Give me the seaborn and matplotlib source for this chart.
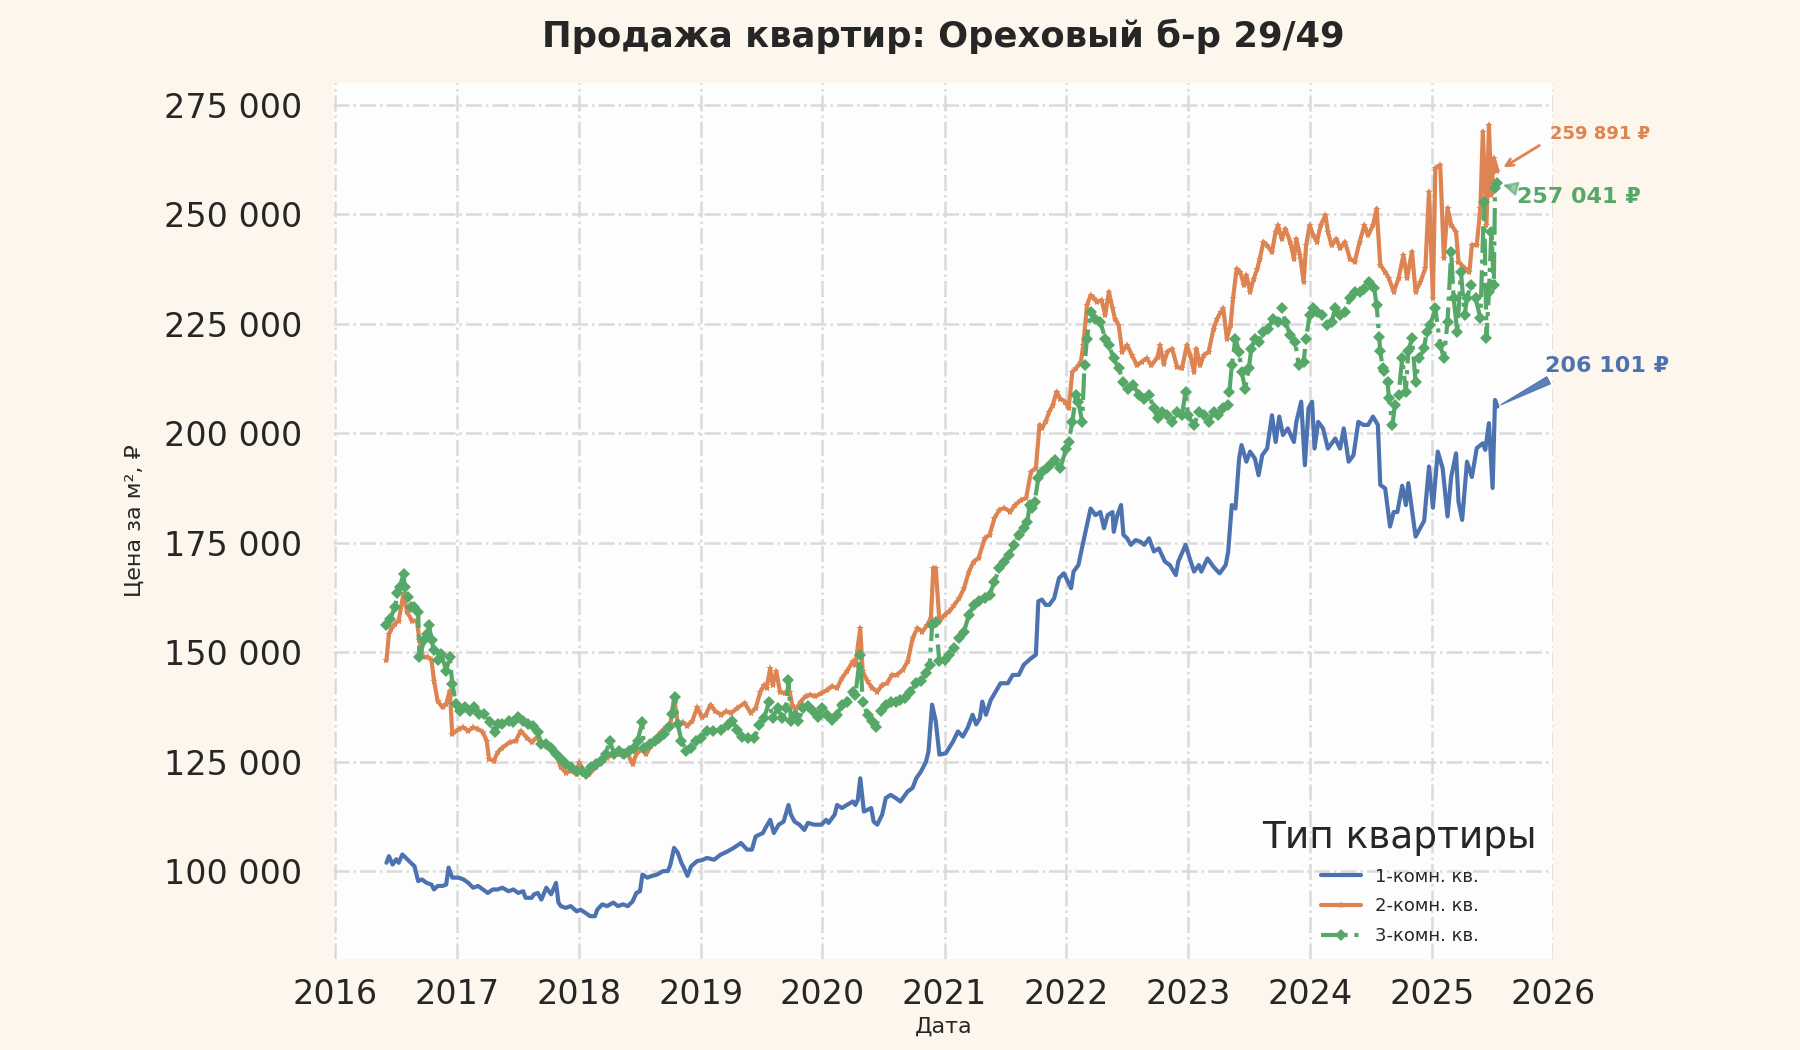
import pandas as pd
import matplotlib
matplotlib.use("Agg")
import matplotlib.pyplot as plt
import matplotlib.dates as mdates
from matplotlib.ticker import FuncFormatter
import seaborn as sns

# ---------- data ----------
TITLE = "Продажа квартир: Ореховый б-р 29/49"
LEGEND_TITLE = "Тип квартиры"
LABELS = ["1-комн. кв.", "2-комн. кв.", "3-комн. кв."]

# decimal years, prices in thousands of rubles per m²
one_t = [2016.42, 2016.44, 2016.47, 2016.50, 2016.52, 2016.55, 2016.59, 2016.62, 2016.65, 2016.68,
         2016.71, 2016.75, 2016.79, 2016.81, 2016.84, 2016.88, 2016.91, 2016.93, 2016.96, 2017.01,
         2017.05, 2017.09, 2017.13, 2017.17, 2017.21, 2017.25, 2017.29, 2017.33, 2017.37, 2017.42,
         2017.46, 2017.50, 2017.54, 2017.56, 2017.61, 2017.63, 2017.66, 2017.69, 2017.73, 2017.77,
         2017.81, 2017.83, 2017.85, 2017.89, 2017.93, 2017.98, 2018.01, 2018.05, 2018.09, 2018.13,
         2018.15, 2018.19, 2018.23, 2018.28, 2018.32, 2018.36, 2018.40, 2018.44, 2018.47, 2018.50,
         2018.52, 2018.56, 2018.60, 2018.64, 2018.69, 2018.73, 2018.75, 2018.78, 2018.81, 2018.84,
         2018.86, 2018.89, 2018.92, 2018.97, 2019.01, 2019.05, 2019.11, 2019.16, 2019.22, 2019.27,
         2019.33, 2019.38, 2019.42, 2019.45, 2019.51, 2019.53, 2019.57, 2019.60, 2019.64, 2019.68,
         2019.72, 2019.74, 2019.77, 2019.81, 2019.85, 2019.88, 2019.93, 2019.99, 2020.03, 2020.05,
         2020.10, 2020.12, 2020.16, 2020.20, 2020.25, 2020.27, 2020.29, 2020.31, 2020.34, 2020.37,
         2020.40, 2020.42, 2020.45, 2020.49, 2020.52, 2020.56, 2020.60, 2020.64, 2020.70, 2020.74,
         2020.77, 2020.81, 2020.85, 2020.87, 2020.90, 2020.93, 2020.96, 2021.01, 2021.07, 2021.11,
         2021.15, 2021.19, 2021.23, 2021.26, 2021.29, 2021.31, 2021.34, 2021.38, 2021.42, 2021.46,
         2021.52, 2021.56, 2021.61, 2021.65, 2021.71, 2021.75, 2021.77, 2021.80, 2021.83, 2021.86,
         2021.90, 2021.94, 2021.98, 2022.04, 2022.06, 2022.10, 2022.14, 2022.20, 2022.24, 2022.28,
         2022.31, 2022.34, 2022.38, 2022.39, 2022.42, 2022.45, 2022.47, 2022.50, 2022.53, 2022.57,
         2022.61, 2022.64, 2022.68, 2022.72, 2022.76, 2022.81, 2022.85, 2022.90, 2022.92, 2022.98,
         2023.01, 2023.05, 2023.09, 2023.11, 2023.16, 2023.21, 2023.26, 2023.31, 2023.33, 2023.36,
         2023.39, 2023.42, 2023.44, 2023.48, 2023.51, 2023.55, 2023.58, 2023.61, 2023.65, 2023.69,
         2023.72, 2023.75, 2023.78, 2023.82, 2023.87, 2023.89, 2023.93, 2023.96, 2023.99, 2024.02,
         2024.04, 2024.07, 2024.11, 2024.15, 2024.21, 2024.25, 2024.28, 2024.32, 2024.36, 2024.40,
         2024.44, 2024.48, 2024.52, 2024.56, 2024.58, 2024.62, 2024.66, 2024.69, 2024.72, 2024.76,
         2024.79, 2024.81, 2024.87, 2024.94, 2024.98, 2025.01, 2025.05, 2025.09, 2025.13, 2025.16,
         2025.20, 2025.22, 2025.25, 2025.29, 2025.33, 2025.37, 2025.42, 2025.44, 2025.47, 2025.50,
         2025.52, 2025.54]
one_v = [101.9, 103.4, 101.5, 102.7, 101.9, 103.8, 102.7, 101.9, 101.1, 97.7,
         98.1, 97.3, 96.9, 95.8, 96.6, 96.6, 96.9, 100.8, 98.5, 98.5,
         98.1, 97.3, 96.2, 96.6, 95.8, 95.0, 95.8, 95.8, 96.2, 95.4,
         95.8, 95.0, 95.4, 93.9, 93.9, 94.7, 95.0, 93.5, 96.2, 94.7,
         97.3, 92.8, 92.0, 91.6, 92.0, 90.8, 91.2, 90.5, 89.7, 89.7,
         91.2, 92.4, 92.0, 92.8, 92.0, 92.4, 92.0, 93.1, 95.0, 95.4,
         99.2, 98.5, 98.9, 99.2, 100.0, 100.0, 101.5, 105.3, 104.2, 101.9,
         100.8, 98.9, 101.1, 102.3, 102.5, 103.0, 102.6, 103.7, 104.5, 105.3,
         106.4, 104.9, 104.9, 107.9, 108.7, 109.8, 111.7, 108.7, 110.6, 111.3,
         115.1, 112.9, 111.3, 110.6, 109.4, 111.0, 110.6, 110.6, 111.7, 111.0,
         112.9, 115.1, 114.4, 115.1, 115.9, 115.1, 116.3, 121.2, 113.6, 114.0,
         114.4, 111.3, 110.6, 112.9, 116.7, 117.4, 116.7, 115.9, 118.2, 119.0,
         121.2, 122.8, 125.0, 127.3, 138.0, 134.2, 126.6, 126.9, 129.6, 131.9,
         130.7, 132.7, 135.7, 133.5, 134.9, 138.7, 135.7, 139.1, 141.0, 142.9,
         142.9, 144.8, 144.8, 147.1, 148.6, 149.4, 161.6, 162.0, 160.8, 160.8,
         162.3, 166.9, 168.0, 164.6, 168.4, 169.9, 175.2, 182.8, 181.3, 182.0,
         178.3, 181.3, 182.0, 177.5, 181.3, 183.6, 176.8, 176.0, 174.5, 175.6,
         175.2, 174.5, 176.0, 173.0, 173.7, 170.7, 169.9, 167.6, 170.7, 174.5,
         171.8, 168.4, 169.9, 168.4, 171.4, 169.5, 168.0, 169.9, 172.9, 183.6,
         182.8, 194.2, 197.3, 193.5, 195.8, 194.2, 190.4, 195.0, 196.5, 204.1,
         198.0, 203.8, 199.6, 201.1, 198.0, 202.6, 207.2, 192.7, 205.7, 207.2,
         196.5, 202.6, 201.1, 196.5, 198.8, 196.5, 201.1, 193.5, 195.0, 202.6,
         201.9, 201.9, 203.8, 201.9, 188.2, 187.4, 178.7, 182.0, 182.0, 188.0,
         183.6, 188.6, 176.4, 180.0, 192.4, 183.0, 195.8, 192.0, 181.0, 190.0,
         195.4, 184.4, 180.2, 193.5, 190.0, 196.6, 197.7, 196.2, 202.3, 187.5,
         207.6, 206.101]

two_t = [2016.42, 2016.44, 2016.46, 2016.49, 2016.52, 2016.54, 2016.56, 2016.59, 2016.63, 2016.67,
         2016.69, 2016.72, 2016.76, 2016.79, 2016.81, 2016.84, 2016.88, 2016.91, 2016.94, 2016.96,
         2017.01, 2017.05, 2017.09, 2017.13, 2017.17, 2017.21, 2017.24, 2017.26, 2017.30, 2017.33,
         2017.37, 2017.43, 2017.48, 2017.52, 2017.57, 2017.61, 2017.65, 2017.69, 2017.73, 2017.77,
         2017.81, 2017.85, 2017.89, 2017.93, 2017.98, 2018.00, 2018.04, 2018.08, 2018.14, 2018.19,
         2018.23, 2018.28, 2018.32, 2018.36, 2018.40, 2018.44, 2018.47, 2018.51, 2018.55, 2018.59,
         2018.63, 2018.67, 2018.71, 2018.75, 2018.78, 2018.81, 2018.85, 2018.89, 2018.93, 2018.97,
         2019.01, 2019.04, 2019.08, 2019.12, 2019.17, 2019.21, 2019.25, 2019.30, 2019.36, 2019.41,
         2019.45, 2019.49, 2019.52, 2019.54, 2019.57, 2019.59, 2019.62, 2019.65, 2019.69, 2019.73,
         2019.75, 2019.78, 2019.82, 2019.86, 2019.90, 2019.94, 2019.99, 2020.04, 2020.08, 2020.12,
         2020.16, 2020.20, 2020.25, 2020.27, 2020.31, 2020.33, 2020.37, 2020.41, 2020.45, 2020.49,
         2020.53, 2020.57, 2020.61, 2020.66, 2020.70, 2020.74, 2020.78, 2020.82, 2020.86, 2020.89,
         2020.91, 2020.93, 2020.96, 2021.00, 2021.04, 2021.08, 2021.12, 2021.16, 2021.20, 2021.24,
         2021.28, 2021.33, 2021.37, 2021.41, 2021.45, 2021.49, 2021.54, 2021.58, 2021.63, 2021.67,
         2021.71, 2021.75, 2021.78, 2021.80, 2021.83, 2021.86, 2021.89, 2021.92, 2021.95, 2021.99,
         2022.02, 2022.05, 2022.08, 2022.12, 2022.14, 2022.17, 2022.20, 2022.23, 2022.25, 2022.29,
         2022.32, 2022.35, 2022.38, 2022.40, 2022.43, 2022.46, 2022.50, 2022.54, 2022.58, 2022.62,
         2022.66, 2022.70, 2022.75, 2022.77, 2022.80, 2022.83, 2022.87, 2022.91, 2022.95, 2022.99,
         2023.02, 2023.05, 2023.07, 2023.10, 2023.13, 2023.17, 2023.21, 2023.24, 2023.27, 2023.29,
         2023.32, 2023.35, 2023.37, 2023.40, 2023.43, 2023.46, 2023.48, 2023.51, 2023.54, 2023.57,
         2023.59, 2023.62, 2023.65, 2023.69, 2023.72, 2023.74, 2023.77, 2023.80, 2023.84, 2023.87,
         2023.89, 2023.92, 2023.95, 2023.97, 2024.00, 2024.03, 2024.06, 2024.09, 2024.13, 2024.15,
         2024.18, 2024.22, 2024.25, 2024.29, 2024.33, 2024.37, 2024.41, 2024.45, 2024.48, 2024.52,
         2024.55, 2024.58, 2024.62, 2024.65, 2024.69, 2024.73, 2024.77, 2024.80, 2024.84, 2024.87,
         2024.91, 2024.95, 2024.98, 2025.01, 2025.03, 2025.07, 2025.10, 2025.13, 2025.16, 2025.20,
         2025.22, 2025.27, 2025.31, 2025.33, 2025.37, 2025.40, 2025.42, 2025.45, 2025.47, 2025.49,
         2025.51, 2025.54]
two_v = [148.1, 154.2, 155.3, 156.5, 157.2, 160.3, 163.4, 159.1, 157.2, 157.2,
         152.7, 148.9, 148.9, 148.1, 143.5, 138.9, 137.4, 138.2, 141.2, 131.3,
         132.4, 132.8, 132.0, 132.8, 132.4, 131.7, 129.8, 125.6, 125.2, 127.1,
         128.2, 129.4, 129.8, 132.0, 130.5, 129.4, 130.5, 129.4, 129.0, 128.2,
         126.7, 123.7, 122.5, 122.9, 122.1, 124.8, 122.9, 122.1, 123.7, 125.2,
         125.9, 126.7, 126.7, 126.3, 126.7, 124.4, 126.7, 127.8, 126.7, 128.6,
         130.5, 131.7, 132.8, 133.6, 139.7, 133.6, 134.0, 133.2, 134.3, 137.4,
         135.1, 135.7, 138.0, 136.5, 135.7, 136.5, 136.1, 137.2, 138.4, 136.1,
         137.2, 141.0, 142.5, 141.8, 146.3, 142.5, 145.6, 141.0, 140.6, 141.0,
         138.0, 136.8, 138.7, 139.9, 140.3, 139.9, 140.6, 141.4, 142.2, 141.8,
         144.1, 145.6, 147.9, 147.1, 155.5, 145.6, 143.3, 141.8, 141.0, 142.5,
         142.9, 144.8, 144.8, 146.0, 147.9, 153.2, 155.5, 154.7, 156.2, 157.8,
         169.2, 169.2, 157.0, 158.5, 159.3, 160.8, 162.3, 164.6, 168.4, 170.7,
         171.5, 176.0, 176.8, 180.6, 182.5, 182.9, 182.1, 183.6, 184.8, 185.2,
         191.2, 192.0, 201.9, 201.1, 202.7, 204.9, 206.5, 209.5, 207.9, 207.2,
         205.7, 214.0, 214.8, 216.3, 220.1, 229.2, 231.5, 230.8, 230.0, 230.4,
         227.0, 232.3, 228.5, 226.2, 224.7, 218.6, 220.1, 217.8, 215.5, 216.3,
         217.1, 215.5, 217.4, 220.1, 215.9, 218.6, 219.3, 215.2, 214.8, 220.1,
         217.8, 214.0, 219.3, 215.5, 217.8, 218.6, 223.9, 226.2, 227.7, 228.5,
         221.6, 224.7, 230.8, 237.6, 236.8, 233.8, 236.1, 232.3, 235.3, 237.6,
         239.9, 243.7, 242.9, 241.4, 246.0, 247.5, 244.4, 246.7, 243.7, 239.9,
         244.4, 240.6, 234.6, 242.9, 247.5, 245.2, 243.7, 247.5, 249.8, 246.0,
         242.9, 244.4, 242.2, 243.7, 239.9, 239.1, 243.7, 247.5, 245.2, 247.5,
         251.3, 238.4, 236.9, 235.4, 232.3, 235.4, 240.7, 235.4, 241.5, 232.3,
         234.6, 237.7, 255.2, 230.8, 260.5, 261.3, 240.0, 251.4, 247.6, 246.0,
         239.2, 237.7, 236.9, 243.0, 243.0, 251.4, 268.9, 247.6, 270.4, 254.4,
         262.8, 259.891]

three_t = [2016.42, 2016.45, 2016.49, 2016.51, 2016.53, 2016.56, 2016.57, 2016.60, 2016.62, 2016.65,
           2016.68, 2016.69, 2016.73, 2016.75, 2016.77, 2016.79, 2016.81, 2016.84, 2016.87, 2016.91,
           2016.94, 2016.96, 2016.99, 2017.02, 2017.06, 2017.10, 2017.14, 2017.18, 2017.22, 2017.27,
           2017.31, 2017.33, 2017.37, 2017.42, 2017.46, 2017.50, 2017.54, 2017.58, 2017.62, 2017.66,
           2017.69, 2017.73, 2017.77, 2017.81, 2017.85, 2017.89, 2017.93, 2017.98, 2018.02, 2018.06,
           2018.10, 2018.14, 2018.18, 2018.22, 2018.25, 2018.29, 2018.33, 2018.37, 2018.41, 2018.45,
           2018.48, 2018.52, 2018.53, 2018.58, 2018.62, 2018.66, 2018.70, 2018.74, 2018.76, 2018.79,
           2018.81, 2018.84, 2018.88, 2018.92, 2018.96, 2019.00, 2019.05, 2019.10, 2019.17, 2019.22,
           2019.26, 2019.30, 2019.34, 2019.39, 2019.44, 2019.48, 2019.52, 2019.56, 2019.59, 2019.63,
           2019.67, 2019.70, 2019.72, 2019.74, 2019.77, 2019.80, 2019.84, 2019.88, 2019.92, 2019.96,
           2020.00, 2020.04, 2020.08, 2020.12, 2020.16, 2020.20, 2020.25, 2020.27, 2020.31, 2020.33,
           2020.37, 2020.41, 2020.44, 2020.48, 2020.52, 2020.56, 2020.60, 2020.64, 2020.68, 2020.72,
           2020.77, 2020.81, 2020.85, 2020.88, 2020.90, 2020.93, 2020.96, 2021.00, 2021.04, 2021.08,
           2021.12, 2021.16, 2021.20, 2021.24, 2021.28, 2021.33, 2021.37, 2021.41, 2021.45, 2021.49,
           2021.53, 2021.57, 2021.61, 2021.65, 2021.68, 2021.70, 2021.72, 2021.74, 2021.77, 2021.80,
           2021.84, 2021.88, 2021.91, 2021.95, 2022.00, 2022.02, 2022.05, 2022.08, 2022.10, 2022.13,
           2022.15, 2022.17, 2022.20, 2022.24, 2022.28, 2022.32, 2022.35, 2022.39, 2022.43, 2022.47,
           2022.51, 2022.55, 2022.60, 2022.64, 2022.68, 2022.72, 2022.75, 2022.79, 2022.83, 2022.87,
           2022.91, 2022.95, 2022.98, 2023.00, 2023.05, 2023.09, 2023.13, 2023.17, 2023.21, 2023.25,
           2023.29, 2023.33, 2023.34, 2023.36, 2023.39, 2023.42, 2023.44, 2023.47, 2023.50, 2023.52,
           2023.55, 2023.58, 2023.62, 2023.66, 2023.70, 2023.74, 2023.77, 2023.80, 2023.84, 2023.88,
           2023.91, 2023.95, 2023.97, 2024.00, 2024.03, 2024.06, 2024.10, 2024.14, 2024.18, 2024.21,
           2024.25, 2024.29, 2024.33, 2024.37, 2024.41, 2024.45, 2024.49, 2024.53, 2024.55, 2024.57,
           2024.58, 2024.60, 2024.61, 2024.64, 2024.65, 2024.68, 2024.70, 2024.73, 2024.76, 2024.79,
           2024.81, 2024.84, 2024.87, 2024.90, 2024.94, 2024.96, 2024.99, 2025.03, 2025.07, 2025.10,
           2025.13, 2025.16, 2025.18, 2025.21, 2025.24, 2025.27, 2025.29, 2025.32, 2025.36, 2025.40,
           2025.43, 2025.45, 2025.47, 2025.49, 2025.51, 2025.52, 2025.54]
three_v = [156.1, 157.6, 160.3, 163.4, 164.9, 167.9, 164.9, 162.6, 160.3, 160.3,
           159.2, 148.9, 152.7, 154.2, 156.1, 152.7, 150.4, 148.1, 149.6, 145.8,
           148.9, 142.8, 138.2, 136.6, 137.4, 136.6, 137.4, 135.9, 135.9, 134.0,
           131.7, 133.6, 133.6, 134.3, 134.0, 135.1, 134.3, 133.6, 133.2, 131.7,
           129.0, 129.0, 128.2, 126.7, 125.6, 124.4, 123.7, 122.9, 122.9, 122.1,
           123.7, 124.4, 125.2, 126.7, 129.8, 126.7, 127.5, 126.7, 127.5, 128.2,
           129.8, 134.0, 128.2, 129.0, 129.8, 130.5, 131.3, 132.8, 135.9, 139.7,
           133.6, 129.8, 127.5, 128.2, 129.8, 130.5, 131.9, 132.0, 132.3, 133.4,
           134.2, 132.3, 130.7, 130.4, 130.4, 133.4, 134.9, 138.7, 134.9, 137.2,
           134.9, 137.2, 143.7, 134.2, 135.7, 134.2, 137.2, 137.6, 136.5, 135.3,
           137.2, 135.7, 134.6, 135.7, 138.0, 138.7, 141.0, 140.3, 149.4, 138.7,
           135.7, 134.2, 133.0, 136.5, 138.0, 138.7, 138.7, 139.1, 139.5, 141.0,
           142.9, 143.3, 145.2, 147.1, 156.2, 157.0, 147.9, 148.3, 149.4, 150.9,
           153.2, 154.7, 158.5, 160.8, 161.6, 162.3, 163.1, 166.1, 169.2, 170.7,
           172.2, 174.5, 176.8, 178.3, 179.8, 183.6, 182.9, 184.4, 189.7, 191.2,
           192.0, 193.2, 193.9, 192.0, 196.5, 198.0, 202.6, 208.7, 207.2, 202.6,
           215.5, 221.6, 227.7, 226.2, 225.4, 221.6, 220.1, 217.1, 214.8, 211.7,
           210.2, 211.0, 208.7, 207.9, 208.7, 205.7, 203.4, 204.9, 204.1, 202.6,
           204.9, 204.1, 209.5, 204.1, 201.9, 204.9, 204.1, 202.6, 204.9, 204.1,
           205.7, 206.4, 209.5, 215.5, 221.6, 218.6, 214.0, 210.2, 214.8, 219.3,
           221.6, 220.9, 223.2, 223.9, 226.2, 225.4, 228.5, 225.4, 222.4, 220.9,
           215.5, 216.3, 221.6, 227.0, 228.5, 227.7, 227.0, 224.7, 225.4, 228.5,
           227.0, 227.7, 230.8, 232.3, 232.3, 233.0, 234.6, 233.1, 229.2, 222.0,
           218.7, 214.9, 214.1, 211.8, 208.0, 201.9, 206.5, 208.8, 217.1, 209.5,
           218.7, 221.7, 211.8, 217.1, 219.4, 223.2, 224.7, 228.5, 220.2, 217.1,
           225.5, 241.5, 230.8, 223.2, 236.9, 227.0, 230.8, 233.9, 230.8, 226.3,
           252.9, 221.7, 232.3, 246.0, 233.9, 255.9, 257.041]

COLORS = ["#4C72B0", "#DD8452", "#55A868"]


def to_dates(years):
    # decimal year -> timestamp
    out = []
    for y in years:
        base = pd.Timestamp(year=int(y), month=1, day=1)
        out.append(base + pd.Timedelta(days=(y - int(y)) * 365.25))
    return out


def rub(v):
    return f"{v:,.0f}".replace(",", " ")


def main():
    sns.set_theme(style="whitegrid")
    plt.rcParams["font.family"] = ["DejaVu Sans"]

    series = [
        (one_t, one_v, dict(linestyle="-", marker=None)),
        (two_t, two_v, dict(linestyle="-", marker="*", markersize=6, markeredgewidth=0)),
        (three_t, three_v, dict(linestyle="-.", marker="D", markersize=6.5, markeredgewidth=0)),
    ]

    left, right = 0.185, 0.863
    fig, ax = plt.subplots(figsize=(18, 10.5), dpi=100)
    fig.patch.set_facecolor("#fdf6ec")
    ax.set_facecolor("#fdfdfd")
    fig.subplots_adjust(left=left, right=right, top=0.921, bottom=0.087)

    last_pts = []
    for (t, v, style), label, color in zip(series, LABELS, COLORS):
        df = pd.DataFrame({"date": to_dates(t), "price": [x * 1000 for x in v]})
        sns.lineplot(data=df, x="date", y="price", ax=ax, color=color,
                     linewidth=3, label=label, **style)
        last_pts.append((df["date"].iloc[-1], df["price"].iloc[-1]))

    # grid / axes look
    ax.grid(True, which="major", color="#dadada", linestyle="-.", linewidth=1.8)
    for s in ax.spines.values():
        s.set_visible(False)
    ax.tick_params(axis="both", length=0, labelsize=24)
    ax.tick_params(axis="x", pad=14)
    ax.tick_params(axis="y", pad=22)

    ax.set_xlim(pd.Timestamp("2015-12-25"), pd.Timestamp("2026-01-01"))
    ax.set_ylim(80000, 280000)
    ax.xaxis.set_major_locator(mdates.YearLocator())
    ax.xaxis.set_major_formatter(mdates.DateFormatter("%Y"))
    ax.set_yticks(range(100000, 275001, 25000))
    ax.yaxis.set_major_formatter(FuncFormatter(lambda v, p: rub(v)))

    ax.set_xlabel("Дата", fontsize=16, labelpad=4)
    ax.set_ylabel("Цена за м², ₽", fontsize=16, labelpad=14)
    fig.suptitle(TITLE, fontsize=25.5, fontweight="bold", x=(left + right) / 2,
                 y=0.965, va="center", color="#262626")

    # last value annotations
    text_pos = [(to_dates([2025.93])[0], 215400), (to_dates([2025.97])[0], 268400),
                (to_dates([2025.70])[0], 254000)]
    sizes = [16, 13, 16]
    arrows = [
        dict(arrowstyle="wedge,tail_width=0.35,shrink_factor=0.5", color=COLORS[0],
             alpha=0.9, relpos=(0.1, 0.0), shrinkA=2, shrinkB=3),
        dict(arrowstyle="->", color=COLORS[1], lw=2, relpos=(0.0, 0.2), shrinkA=6, shrinkB=5),
        dict(arrowstyle="-|>", color=COLORS[2], lw=1.5, alpha=0.6, mutation_scale=22,
             relpos=(0.0, 0.9), shrinkA=2, shrinkB=4),
    ]
    for (x, y), (tx, ty), fs, ap, color in zip(last_pts, text_pos, sizes, arrows, COLORS):
        ax.annotate(f"{rub(y)} ₽", xy=(x, y), xytext=(tx, ty), textcoords="data",
                    fontsize=fs, fontweight="bold", color=color, ha="left", va="center",
                    arrowprops=ap, annotation_clip=False)

    leg = ax.legend(title=LEGEND_TITLE, loc="lower right", frameon=False,
                    fontsize=13, title_fontsize=27, handlelength=2.2,
                    labelspacing=0.65, bbox_to_anchor=(1.0, -0.003))
    leg.get_title().set_color("#262626")

    fig.savefig("out.png", dpi=100, facecolor=fig.get_facecolor())


if __name__ == "__main__":
    main()
